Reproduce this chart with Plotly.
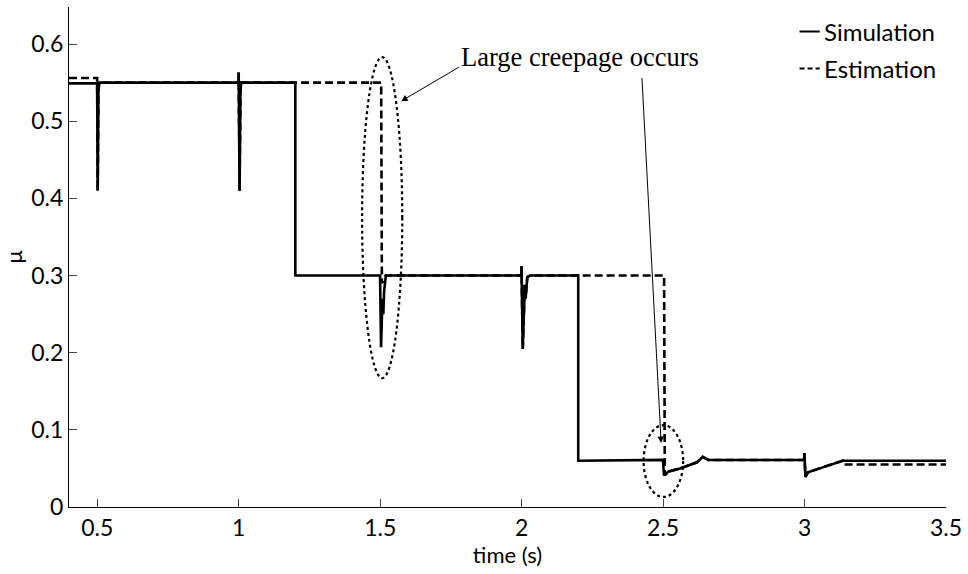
import plotly.graph_objects as go

# Friction coefficient: simulated value vs. estimated value
sim_t = [0.40, 0.4995, 0.5015, 0.5040, 0.5070,
         0.9990, 0.9998, 1.0030, 1.0060, 1.0090,
         1.2000, 1.2000,
         1.4995, 1.5030, 1.5080, 1.5110, 1.5140, 1.5200,
         1.9985, 1.9995, 2.0040, 2.0110, 2.0140, 2.0200, 2.0300,
         2.2000, 2.2000,
         2.4995, 2.5030, 2.5200, 2.5600, 2.6200, 2.6400, 2.6600,
         2.9985, 2.9995, 3.0030, 3.0120, 3.0700, 3.1350, 3.50]
sim_mu = [0.549, 0.549, 0.410, 0.540, 0.550,
          0.550, 0.563, 0.410, 0.540, 0.550,
          0.550, 0.300,
          0.300, 0.207, 0.270, 0.250, 0.280, 0.300,
          0.300, 0.312, 0.205, 0.288, 0.270, 0.298, 0.300,
          0.300, 0.060,
          0.061, 0.041, 0.046, 0.050, 0.058, 0.065, 0.061,
          0.061, 0.070, 0.039, 0.045, 0.052, 0.060, 0.060]

est_t = [0.40, 0.4995, 0.5015, 0.5040, 0.5070,
         0.9990, 0.9998, 1.0030, 1.0060, 1.0090,
         1.5035, 1.5060, 1.5200,
         1.9985, 1.9995, 2.0040, 2.0110, 2.0140, 2.0200, 2.0300,
         2.5035, 2.5060, 2.5200, 2.5600, 2.6200, 2.6400, 2.6600,
         2.9985, 2.9995, 3.0030, 3.0120, 3.0700, 3.1350, 3.1400, 3.50]
est_mu = [0.556, 0.556, 0.410, 0.540, 0.550,
          0.550, 0.563, 0.410, 0.540, 0.550,
          0.550, 0.290, 0.300,
          0.300, 0.312, 0.205, 0.288, 0.270, 0.298, 0.300,
          0.300, 0.041, 0.046, 0.050, 0.058, 0.065, 0.061,
          0.061, 0.070, 0.039, 0.045, 0.052, 0.060, 0.055, 0.055]

x_ticks = [0.5, 1, 1.5, 2, 2.5, 3, 3.5]
x_tick_text = ["0.5", "1", "1.5", "2", "2.5", "3", "3.5"]
y_ticks = [0, 0.1, 0.2, 0.3, 0.4, 0.5, 0.6]
y_tick_text = ["0", "0.1", "0.2", "0.3", "0.4", "0.5", "0.6"]

series_names = ["Simulation", "Estimation"]
note_text = "Large creepage occurs"

FONT = "Lato, 'Open Sans', sans-serif"
SERIF = "'Liberation Serif', 'DejaVu Serif', serif"

fig = go.Figure()
fig.add_trace(go.Scatter(x=sim_t, y=sim_mu, mode="lines", name=series_names[0],
                         line=dict(color="black", width=2.6), showlegend=False))
fig.add_trace(go.Scatter(x=est_t, y=est_mu, mode="lines", name=series_names[1],
                         line=dict(color="black", width=2.6, dash="8px,4px"),
                         showlegend=False))

# Dotted ellipses around the creepage events
fig.add_shape(type="circle", xref="x", yref="y", x0=1.436, x1=1.578, y0=0.167, y1=0.583,
              line=dict(color="black", width=2.2, dash="dot"))
fig.add_shape(type="circle", xref="x", yref="y", x0=2.431, x1=2.571, y0=0.013, y1=0.106,
              line=dict(color="black", width=2.2, dash="dot"))

# Callout text and arrows
fig.add_annotation(x=1.778, y=0.583, xref="x", yref="y", text=note_text, showarrow=False,
                   xanchor="left", yanchor="middle",
                   font=dict(family=SERIF, size=26.5, color="black"))
fig.add_annotation(x=1.574, y=0.526, ax=1.783, ay=0.571, xref="x", yref="y",
                   axref="x", ayref="y", text="", showarrow=True,
                   arrowhead=2, arrowsize=1.3, arrowwidth=1, arrowcolor="black")
fig.add_annotation(x=2.493, y=0.083, ax=2.425, ay=0.558, xref="x", yref="y",
                   axref="x", ayref="y", text="", showarrow=True,
                   arrowhead=2, arrowsize=1.3, arrowwidth=1, arrowcolor="black")

# Legend drawn at the top right
legend_y = [0.951, 0.877]
for i, name in enumerate(series_names):
    fig.add_shape(type="line", xref="paper", yref="paper",
                  x0=0.833, x1=0.856, y0=legend_y[i], y1=legend_y[i],
                  line=dict(color="black", width=2, dash="solid" if i == 0 else "5px,3px"))
    fig.add_annotation(x=0.859, y=legend_y[i], xref="paper", yref="paper", text=name,
                       showarrow=False, xanchor="left", yanchor="middle",
                       font=dict(family=FONT, size=24, color="black"))

fig.update_layout(
    width=968, height=574,
    margin=dict(l=69, r=22, t=7, b=67),
    paper_bgcolor="white", plot_bgcolor="white",
    font=dict(family=FONT, size=22, color="black"),
    showlegend=False,
)
fig.update_xaxes(range=[0.4, 3.5], tickvals=x_ticks, ticktext=x_tick_text,
                 ticks="inside", ticklen=8, tickwidth=1, tickcolor="#444",
                 showline=True, linecolor="black", linewidth=1, showgrid=False,
                 zeroline=False, title=dict(text="time (s)", standoff=2,
                                            font=dict(family=FONT, size=22)),
                 tickfont=dict(family=FONT, size=23))
fig.update_yaxes(range=[0, 0.648], tickvals=y_ticks, ticktext=y_tick_text,
                 ticks="inside", ticklen=8, tickwidth=1, tickcolor="#444",
                 showline=True, linecolor="black", linewidth=1, showgrid=False,
                 zeroline=False, title=dict(text="μ", standoff=4,
                                            font=dict(family=FONT, size=22)),
                 tickfont=dict(family=FONT, size=23))

fig.write_html("out.html")
